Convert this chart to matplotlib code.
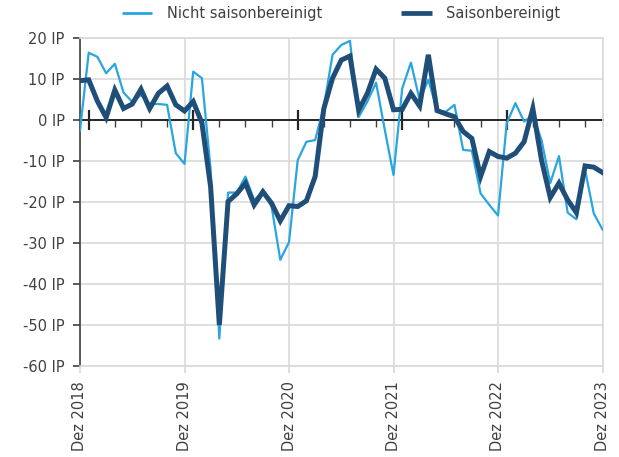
import matplotlib
matplotlib.use("Agg")
import matplotlib.pyplot as plt
from matplotlib.ticker import FixedLocator
from matplotlib.lines import Line2D
import numpy as np

plt.rcParams['font.family'] = ['DejaVu Sans']

# Monthly data, Dez 2018 .. Dez 2023 (61 months)
nicht_saisonbereinigt = [
    -2.5, 16.4, 15.4, 11.4, 13.7, 6.7, 4.4, 6.1, 3.9, 3.9, 3.7, -8.1,
    -10.7, 11.8, 10.2, -12.0, -53.3, -17.7, -17.7, -13.8, -19.5, -17.5, -21.1, -34.1,
    -29.8, -9.8, -5.3, -4.9, 3.3, 15.9, 18.3, 19.3, 0.7, 4.5, 9.1, -2.4,
    -13.4, 7.7, 14.0, 4.9, 9.8, 2.4, 2.0, 3.7, -7.3, -7.5, -17.9, -20.7,
    -23.3, -0.8, 4.1, -0.4, 1.2, -4.9, -15.4, -8.8, -22.6, -24.2, -12.2, -22.8, -26.7,
]
saisonbereinigt = [
    9.6, 9.8, 4.6, 0.6, 7.3, 2.8, 3.9, 7.5, 2.8, 6.5, 8.3, 3.7,
    2.2, 4.5, -0.7, -16.3, -50.0, -19.9, -18.0, -15.4, -20.7, -17.5, -20.3, -24.6,
    -20.9, -21.1, -19.7, -13.8, 2.8, 10.2, 14.6, 15.6, 2.4, 6.5, 12.4, 10.2,
    2.5, 2.6, 6.5, 3.4, 15.9, 2.3, 1.5, 0.8, -2.8, -4.5, -13.8, -7.7,
    -8.9, -9.3, -8.1, -5.3, 2.8, -9.8, -18.9, -15.4, -19.5, -22.6, -11.2, -11.5, -12.8,
]
x_tick_labels = ["Dez 2018", "Dez 2019", "Dez 2020", "Dez 2021", "Dez 2022", "Dez 2023"]
y_ticks = [20, 10, 0, -10, -20, -30, -40, -50, -60]
series_names = ["Nicht saisonbereinigt", "Saisonbereinigt"]

light = "#27A6DF"
dark = "#1F4E78"
text_col = "#404040"
grid_col = "#D9D9D9"

months = np.arange(len(saisonbereinigt))

fig = plt.figure(figsize=(6.19, 4.57), dpi=100)
ax = fig.add_axes([80/619, 1-366/457, (602.5-80)/619, (366-38)/457])

ax.set_xlim(0, 60)
ax.set_ylim(-60, 20)

ax.plot(months, nicht_saisonbereinigt, color=light, lw=1.6, zorder=3)
ax.plot(months, saisonbereinigt, color=dark, lw=3.6, zorder=4, solid_joinstyle='miter')
ax.axhline(0, color='#262626', lw=1.4, zorder=2)

ax.set_yticks(y_ticks)
ax.set_yticklabels([f"{v} IP" for v in y_ticks], color=text_col, fontsize=10.5)
ax.set_xticks(np.arange(0, 61, 12))
ax.set_xticklabels(x_tick_labels, rotation=90, color=text_col, fontsize=10.5)

ax.grid(True, color=grid_col, lw=1.2, zorder=0)
ax.set_axisbelow(True)
for s in ['top', 'right', 'bottom']:
    ax.spines[s].set_color(grid_col)
    ax.spines[s].set_linewidth(1.2)
ax.spines['left'].set_color('#404040')
ax.spines['left'].set_linewidth(1.2)
ax.tick_params(axis='y', length=5, width=1.2, color='#404040', pad=6)
ax.tick_params(axis='x', length=5, width=1.2, color=grid_col, pad=6)

# Ticks on the zero line
ax2 = ax.twiny()
ax2.set_xlim(ax.get_xlim())
for s in ['top', 'right', 'left']:
    ax2.spines[s].set_visible(False)
ax2.spines['bottom'].set_position(('data', 0))
ax2.spines['bottom'].set_color('#262626')
ax2.spines['bottom'].set_linewidth(1.4)
ax2.xaxis.set_ticks_position('bottom')
ax2.xaxis.set_major_locator(FixedLocator(np.arange(1, 61, 12)))
ax2.xaxis.set_minor_locator(FixedLocator([m for m in range(1, 61, 3) if (m - 1) % 12 != 0]))
ax2.tick_params(axis='x', which='major', direction='inout', length=14, width=1.6,
                color='#262626', labelbottom=False, labeltop=False)
ax2.tick_params(axis='x', which='minor', direction='out', length=5, width=1.0,
                color='#404040', labelbottom=False, labeltop=False)
ax2.set_zorder(ax.get_zorder() - 0.5)
ax.patch.set_visible(False)

handles = [Line2D([], [], color=light, lw=2.0, solid_capstyle='butt'),
           Line2D([], [], color=dark, lw=3.4, solid_capstyle='butt')]
leg = fig.legend(handles=handles, labels=series_names, loc='upper center',
                 bbox_to_anchor=(0.551, 1.015), ncol=2, frameon=False, fontsize=10.5,
                 handlelength=2.1, columnspacing=5.4, handletextpad=1.0)
for t in leg.get_texts():
    t.set_color(text_col)

fig.savefig("out.png", dpi=100)
